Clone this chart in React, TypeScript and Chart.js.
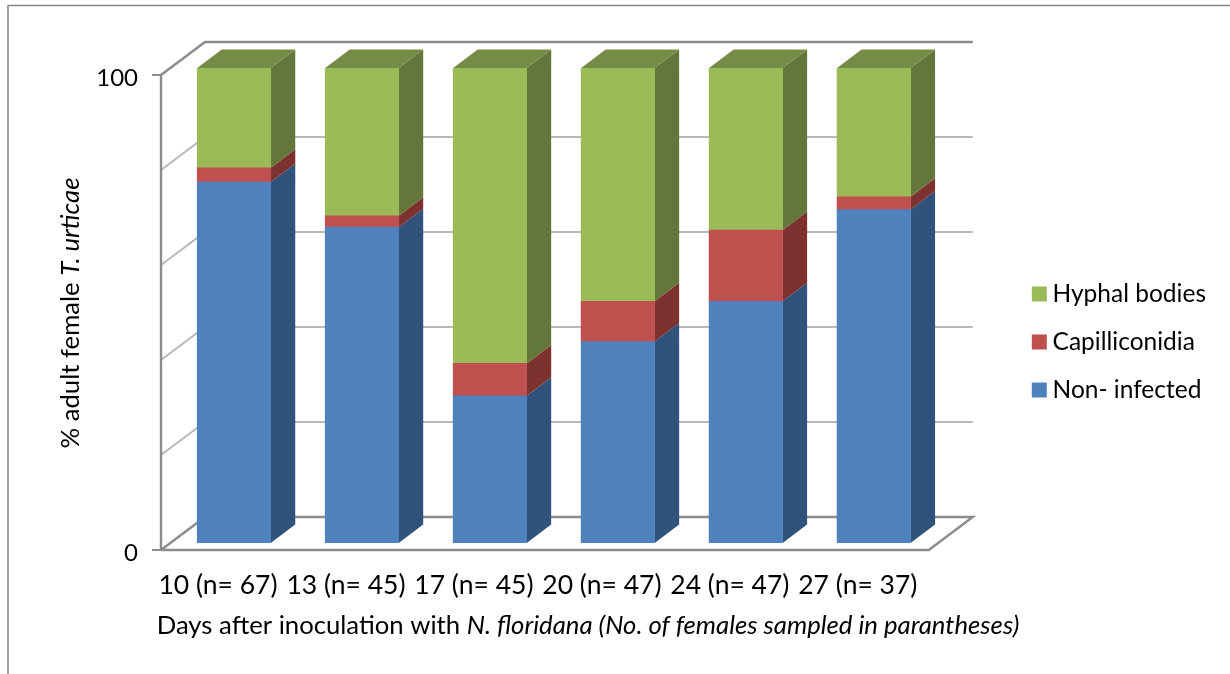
import React, { useEffect, useRef } from "react";
import { Chart, registerables } from "chart.js";

Chart.register(...registerables);

const categories = ["10 (n= 67)", "13 (n= 45)", "17 (n= 45)", "20 (n= 47)", "24 (n= 47)", "27 (n= 37)"];
const nonInfected = [76.0, 66.5, 31.0, 42.4, 50.9, 70.2];
const capilliconidia = [3.0, 2.4, 6.8, 8.5, 15.0, 2.7];
const hyphalBodies = [21.0, 31.1, 62.2, 49.1, 34.1, 27.1];
const yLabelled = [0, 100];
const yGridValues = [0, 20, 40, 60, 80, 100];

const FONT = "Lato";
const TITLE_FS = 25.7;
const AXIS_DARK = "#8c8c8c";
const AXIS_LIGHT = "#b8b8b8";

const line = (ctx: any, pts: number[][], color: string, w: number) => {
  ctx.beginPath();
  ctx.strokeStyle = color;
  ctx.lineWidth = w;
  pts.forEach((p, i) => (i ? ctx.lineTo(p[0], p[1]) : ctx.moveTo(p[0], p[1])));
  ctx.stroke();
};

const poly = (ctx: any, pts: number[][], color: string) => {
  ctx.beginPath();
  ctx.fillStyle = color;
  pts.forEach((p, i) => (i ? ctx.lineTo(p[0], p[1]) : ctx.moveTo(p[0], p[1])));
  ctx.closePath();
  ctx.fill();
};

const segments = (ctx: any, parts: [string, boolean][], cx: number, cy: number) => {
  const fontOf = (it: boolean) => `${it ? "italic " : ""}${TITLE_FS}px ${FONT}`;
  let total = 0;
  parts.forEach(([t, it]) => {
    ctx.font = fontOf(it);
    total += ctx.measureText(t).width;
  });
  let x = cx - total / 2;
  ctx.textAlign = "left";
  ctx.textBaseline = "middle";
  ctx.fillStyle = "#000";
  parts.forEach(([t, it]) => {
    ctx.font = fontOf(it);
    ctx.fillText(t, x, cy);
    x += ctx.measureText(t).width;
  });
};

const sideFaces = ["#31527a", "#7e3230", "#64773a"];
const topFace = "#748c45";

const threeD = {
  id: "threeD",
  beforeDraw(chart: any) {
    const ctx = chart.ctx;
    ctx.save();
    line(ctx, [[8, 674], [8, 5.5], [1230, 5.5]], "#868686", 1.5);
    ctx.restore();
  },
  beforeDatasetsDraw(chart: any) {
    const ctx = chart.ctx;
    const { left, right } = chart.chartArea;
    const y = chart.scales.y;
    ctx.save();
    const fl = left - 9;
    const fr = right - 9;
    const bl = left + 35;
    const br = right + 35;
    yGridValues.forEach((v) => {
      if (v === 0 || v === 100) return;
      const p = y.getPixelForValue(v);
      line(ctx, [[fl, p + 7], [bl, p - 26], [br, p - 26]], AXIS_LIGHT, 2);
    });
    const p0 = y.getPixelForValue(0);
    const p100 = y.getPixelForValue(100);
    line(ctx, [[fl, p100 + 7], [bl, p100 - 26], [br, p100 - 26]], AXIS_DARK, 2.4);
    line(ctx, [[fl, p0 + 7], [bl, p0 - 26], [br, p0 - 26], [fr, p0 + 7], [fl, p0 + 7]], AXIS_DARK, 2.4);
    line(ctx, [[fl, p100 + 7], [fl, p0 + 7]], AXIS_DARK, 2.4);
    yLabelled.forEach((v) => {
      const p = y.getPixelForValue(v) + 7;
      line(ctx, [[fl - 9, p], [fl, p]], AXIS_DARK, 2);
    });
    const dx = 24.5;
    const dy = 18.5;
    chart.data.datasets.forEach((_: any, di: number) => {
      chart.getDatasetMeta(di).data.forEach((bar: any) => {
        const r = bar.x + bar.width / 2;
        const l = bar.x - bar.width / 2;
        poly(ctx, [[r, bar.base], [r + dx, bar.base - dy], [r + dx, bar.y - dy], [r, bar.y]], sideFaces[di]);
        if (di === chart.data.datasets.length - 1) {
          poly(ctx, [[l, bar.y], [l + dx, bar.y - dy], [r + dx, bar.y - dy], [r, bar.y]], topFace);
        }
      });
    });
    ctx.restore();
  },
  afterDraw(chart: any) {
    const ctx = chart.ctx;
    ctx.save();
    segments(ctx, [["Days after inoculation with ", false], ["N. floridana (No. of females sampled in parantheses)", true]], 588, 626);
    ctx.translate(71, 313);
    ctx.rotate(-Math.PI / 2);
    segments(ctx, [["% adult female ", false], ["T. urticae", true]], 0, 0);
    ctx.restore();
  },
};

export default function App() {
  const ref = useRef<HTMLCanvasElement>(null);
  useEffect(() => {
    const chart = new Chart(ref.current as HTMLCanvasElement, {
      type: "bar",
      data: {
        labels: categories,
        datasets: [
          { label: "Non- infected", data: nonInfected, backgroundColor: "#4f81bd", barThickness: 73.5 },
          { label: "Capilliconidia", data: capilliconidia, backgroundColor: "#c0504d", barThickness: 73.5 },
          { label: "Hyphal bodies", data: hyphalBodies, backgroundColor: "#9bbb59", barThickness: 73.5 },
        ],
      },
      options: {
        responsive: false,
        animation: false,
        layout: { padding: { top: 44, bottom: 34, left: 0, right: 14 } },
        scales: {
          x: {
            stacked: true,
            grid: { display: false },
            border: { display: false },
            afterFit: (s: any) => { s.height = 97; },
            ticks: {
              color: "#000",
              font: { family: FONT, size: 26.5 },
              labelOffset: -16,
              padding: 19,
              maxRotation: 0,
              autoSkip: false,
            },
          },
          y: {
            stacked: true,
            min: 0,
            max: 100,
            grid: { display: false },
            border: { display: false },
            afterFit: (s: any) => { s.width = 170; },
            ticks: {
              stepSize: 20,
              color: "#000",
              font: { family: FONT, size: 24 },
              padding: 24,
              labelOffset: 10,
              autoSkip: false,
              callback: (v: any) => (yLabelled.includes(Number(v)) ? String(v) : ""),
            },
          },
          gapRight: {
            axis: "y",
            type: "linear",
            position: "right",
            grid: { display: false },
            border: { display: false },
            ticks: { display: false },
            afterFit: (s: any) => { s.width = 77; },
          },
          gapTop: {
            axis: "x",
            type: "linear",
            position: "top",
            grid: { display: false },
            border: { display: false },
            ticks: { display: false },
            afterFit: (s: any) => { s.height = 24; },
          },
        },
        plugins: {
          title: { display: false },
          tooltip: { enabled: false },
          legend: {
            position: "right",
            reverse: true,
            labels: {
              color: "#000",
              font: { family: FONT, size: 24.5 },
              usePointStyle: true,
              pointStyle: "rect",
              boxWidth: 2,
              boxHeight: 15,
              padding: 23.5,
            },
          },
        },
      } as any,
      plugins: [threeD],
    });
    return () => chart.destroy();
  }, []);
  return (
    <div style={{ position: "absolute", left: 0, top: 0, width: 1230, height: 674, background: "#fff" }}>
      <canvas ref={ref} width={1230} height={674} style={{ display: "block" }} />
    </div>
  );
}
